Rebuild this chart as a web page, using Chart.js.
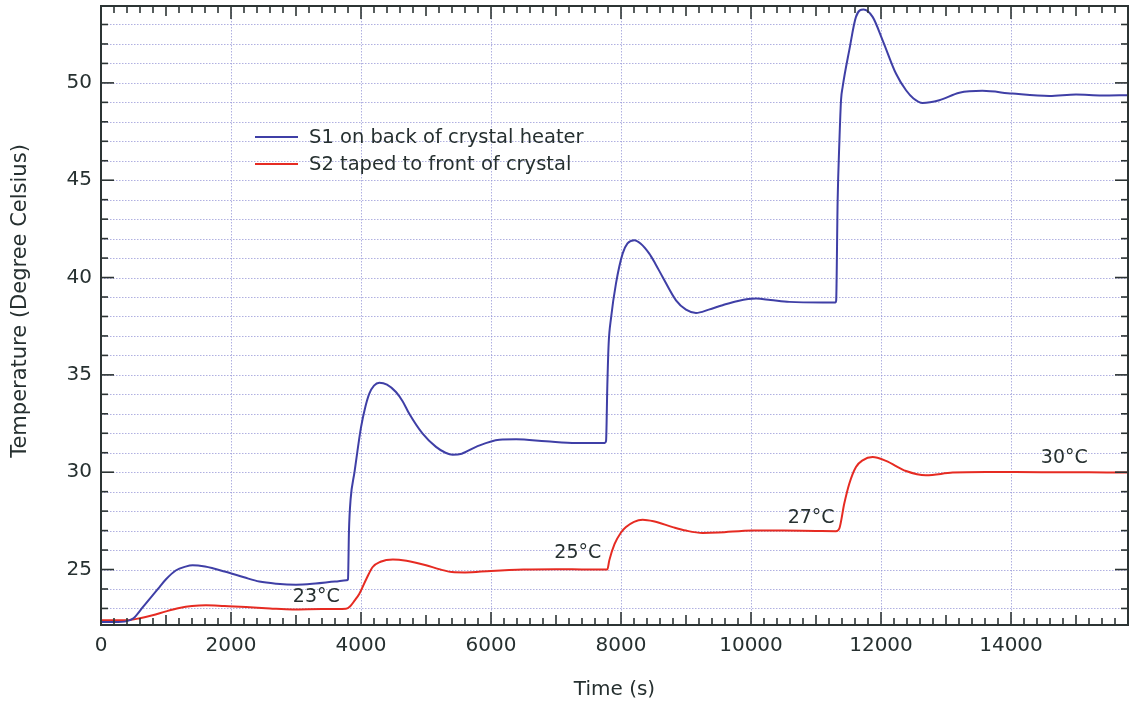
<!DOCTYPE html>
<html>
<head>
<meta charset="utf-8">
<style>
  html, body { margin: 0; padding: 0; background: #ffffff; }
  #wrap { width: 1131px; height: 704px; position: relative; }
</style>
<script src="https://cdn.jsdelivr.net/npm/chart.js@4.4.1/dist/chart.umd.min.js"></script>
</head>
<body>
<div id="wrap"><canvas id="c" width="1131" height="704"></canvas></div>
<script>
// ---- Data ----
const s1Label = 'S1 on back of crystal heater';
const s2Label = 'S2 taped to front of crystal';

const s1Time = [0, 200, 400, 500, 640, 800, 900, 1000, 1150, 1300, 1410, 1600, 1900, 2200, 2435, 2700, 3000, 3300, 3600, 3780,
  3800, 3815, 3840, 3900, 4000, 4070, 4128, 4200, 4282, 4400, 4538, 4640, 4743, 4948, 5154, 5300, 5410, 5550, 5770, 6128, 6385, 6846, 7308, 7750,
  7770, 7790, 7810, 7846, 7923, 8025, 8100, 8205, 8300, 8435, 8530, 8640, 8846, 9000, 9154, 9350, 9563, 9800, 10077, 10300, 10590, 11102, 11300,
  11310, 11333, 11360, 11385, 11410, 11512, 11615, 11732, 11871, 12025, 12230, 12385, 12500, 12640, 12897, 13205, 13560, 14020, 14590, 15000, 15400, 15800];
const s1Temp = [22.3, 22.3, 22.35, 22.5, 23.05, 23.7, 24.1, 24.5, 24.95, 25.15, 25.22, 25.15, 24.9, 24.6, 24.38, 24.27, 24.22, 24.28, 24.38, 24.45,
  24.5, 27.0, 28.6, 30.0, 32.3, 33.4, 34.04, 34.45, 34.6, 34.5, 34.12, 33.65, 33.0, 31.98, 31.3, 31.0, 30.9, 30.95, 31.3, 31.67, 31.69, 31.59, 31.5, 31.5,
  31.6, 34.5, 36.6, 37.9, 39.7, 41.23, 41.75, 41.92, 41.75, 41.23, 40.7, 40.03, 38.83, 38.35, 38.18, 38.35, 38.58, 38.8, 38.92, 38.85, 38.75, 38.72, 38.72,
  38.8, 43.97, 47.0, 49.11, 49.79, 51.68, 53.39, 53.77, 53.39, 52.19, 50.48, 49.62, 49.2, 48.97, 49.11, 49.49, 49.59, 49.45, 49.33, 49.4, 49.35, 49.37];

const s2Time = [0, 385, 600, 794, 1000, 1205, 1400, 1615, 1900, 2230, 2600, 2950, 3400, 3770, 3830, 3900, 3975, 4080, 4180, 4300, 4490, 4700,
  5000, 5200, 5400, 5600, 6000, 6500, 7000, 7500, 7790, 7820, 7900, 8000, 8077, 8200, 8333, 8500, 8795, 9000, 9255, 9500, 10025, 10500, 11000,
  11307, 11358, 11435, 11512, 11615, 11717, 11871, 12077, 12385, 12692, 13102, 13615, 14500, 15200, 15800];
const s2Temp = [22.4, 22.4, 22.5, 22.65, 22.85, 23.02, 23.12, 23.16, 23.12, 23.07, 23.0, 22.95, 22.97, 22.99, 23.1, 23.4, 23.76, 24.5, 25.13, 25.4, 25.52, 25.45,
  25.22, 25.02, 24.87, 24.85, 24.93, 25.0, 25.02, 25.0, 25.0, 25.47, 26.3, 26.9, 27.18, 27.45, 27.56, 27.48, 27.18, 27.0, 26.88, 26.9, 27.01, 27.0, 26.98,
  26.97, 27.1, 28.39, 29.41, 30.27, 30.61, 30.78, 30.58, 30.06, 29.84, 29.98, 30.01, 30.0, 30.0, 29.98];

const xTickValues = [0, 2000, 4000, 6000, 8000, 10000, 12000, 14000];
const yTickValues = [25, 30, 35, 40, 45, 50];

const annotationText = ['23°C', '25°C', '27°C', '30°C'];
const annotationTime = [3312, 7335, 10925, 14820];
const annotationTemp = [23.57, 25.82, 27.66, 30.74];

const xTitle = 'Time (s)';
const yTitle = 'Temperature (Degree Celsius)';

// ---- Styles ----
const FONT = '"DejaVu Sans", "Lucida Grande", Verdana, sans-serif';
const TEXT = '#263030';
const AXIS = '#2c3434';
const GRID = 'rgba(150,150,215,0.75)';
const BLUE = '#3f3fa6';
const RED = '#e62b22';

const toPoints = (xs, ys) => xs.map((x, i) => ({ x: x, y: ys[i] }));

const framePlugin = {
  id: 'frame',
  beforeDatasetsDraw(chart) {
    const { ctx, chartArea: a, scales: { x, y } } = chart;
    ctx.save();
    ctx.strokeStyle = GRID;
    ctx.lineWidth = 1;
    ctx.setLineDash([1.5, 1.5]);
    for (let v = Math.ceil(y.min); v <= y.max; v++) {
      const py = Math.round(y.getPixelForValue(v)) + 0.5;
      ctx.beginPath(); ctx.moveTo(a.left, py); ctx.lineTo(a.right, py); ctx.stroke();
    }
    xTickValues.forEach(v => {
      if (v <= x.min) return;
      const px = Math.round(x.getPixelForValue(v)) + 0.5;
      ctx.beginPath(); ctx.moveTo(px, a.top); ctx.lineTo(px, a.bottom); ctx.stroke();
    });
    ctx.restore();
  },
  afterDatasetsDraw(chart) {
    const { ctx, chartArea: a, scales: { x, y } } = chart;
    ctx.save();
    ctx.strokeStyle = AXIS;
    ctx.setLineDash([]);
    ctx.lineWidth = 1.6;
    for (let v = 0; v <= x.max; v += 200) {
      const px = x.getPixelForValue(v);
      const len = (v % 2000 === 0) ? 13 : (v % 1000 === 0 ? 10 : 7);
      ctx.beginPath(); ctx.moveTo(px, a.bottom); ctx.lineTo(px, a.bottom - len); ctx.stroke();
      ctx.beginPath(); ctx.moveTo(px, a.top); ctx.lineTo(px, a.top + len); ctx.stroke();
    }
    for (let v = Math.ceil(y.min); v <= y.max; v++) {
      const py = y.getPixelForValue(v);
      const len = (v % 5 === 0) ? 13 : 7;
      ctx.beginPath(); ctx.moveTo(a.left, py); ctx.lineTo(a.left + len, py); ctx.stroke();
      ctx.beginPath(); ctx.moveTo(a.right, py); ctx.lineTo(a.right - len, py); ctx.stroke();
    }
    ctx.lineWidth = 2;
    ctx.strokeRect(a.left, a.top, a.right - a.left, a.bottom - a.top);

    // annotations
    ctx.fillStyle = TEXT;
    ctx.font = '19px ' + FONT;
    ctx.textAlign = 'center';
    ctx.textBaseline = 'middle';
    annotationText.forEach((t, i) => {
      ctx.fillText(t, x.getPixelForValue(annotationTime[i]), y.getPixelForValue(annotationTemp[i]));
    });

    // legend
    ctx.font = '19.5px ' + FONT;
    const lx = a.left + 154, ly = a.top + 131, gap = 27;
    chart.data.datasets.forEach((ds, i) => {
      const yy = ly + i * gap;
      ctx.strokeStyle = ds.borderColor;
      ctx.lineWidth = 2;
      ctx.beginPath(); ctx.moveTo(lx, yy); ctx.lineTo(lx + 43, yy); ctx.stroke();
      ctx.textAlign = 'left';
      ctx.fillText(ds.label, lx + 54, yy + 1);
    });

    // y axis title
    ctx.save();
    ctx.translate(21, 301);
    ctx.rotate(-Math.PI / 2);
    ctx.font = '21px ' + FONT;
    ctx.textAlign = 'center';
    ctx.fillText(yTitle, 0, 0);
    ctx.restore();
    ctx.restore();
  }
};

new Chart(document.getElementById('c'), {
  type: 'line',
  data: {
    datasets: [
      { label: s1Label, data: toPoints(s1Time, s1Temp), borderColor: BLUE, borderWidth: 2, pointRadius: 0, cubicInterpolationMode: 'monotone', fill: false },
      { label: s2Label, data: toPoints(s2Time, s2Temp), borderColor: RED, borderWidth: 2, pointRadius: 0, cubicInterpolationMode: 'monotone', fill: false }
    ]
  },
  options: {
    responsive: false,
    animation: false,
    events: [],
    layout: { padding: { top: 6, right: 3, left: 1, bottom: 0 } },
    plugins: { legend: { display: false }, tooltip: { enabled: false } },
    scales: {
      x: {
        type: 'linear',
        min: 0, max: 15800,
        grid: { display: false, drawTicks: false },
        border: { display: false },
        afterBuildTicks: s => { s.ticks = xTickValues.map(v => ({ value: v })); },
        afterFit: s => { s.height = 79; s.paddingLeft = 0; s.paddingRight = 0; },
        ticks: { color: TEXT, font: { family: FONT, size: 20 }, padding: 9, maxRotation: 0, autoSkip: false, callback: v => String(v) },
        title: { display: true, text: xTitle, color: TEXT, font: { family: FONT, size: 20 }, padding: { top: 0, bottom: 2 } }
      },
      y: {
        type: 'linear',
        min: 22.15, max: 53.95,
        grid: { display: false, drawTicks: false },
        border: { display: false },
        afterBuildTicks: s => { s.ticks = yTickValues.map(v => ({ value: v })); },
        afterFit: s => { s.width = 100; s.paddingTop = 0; s.paddingBottom = 0; },
        ticks: { color: TEXT, font: { family: FONT, size: 20 }, padding: 9, autoSkip: false, callback: v => String(v) },
        title: { display: false }
      }
    }
  },
  plugins: [framePlugin]
});
</script>
</body>
</html>
